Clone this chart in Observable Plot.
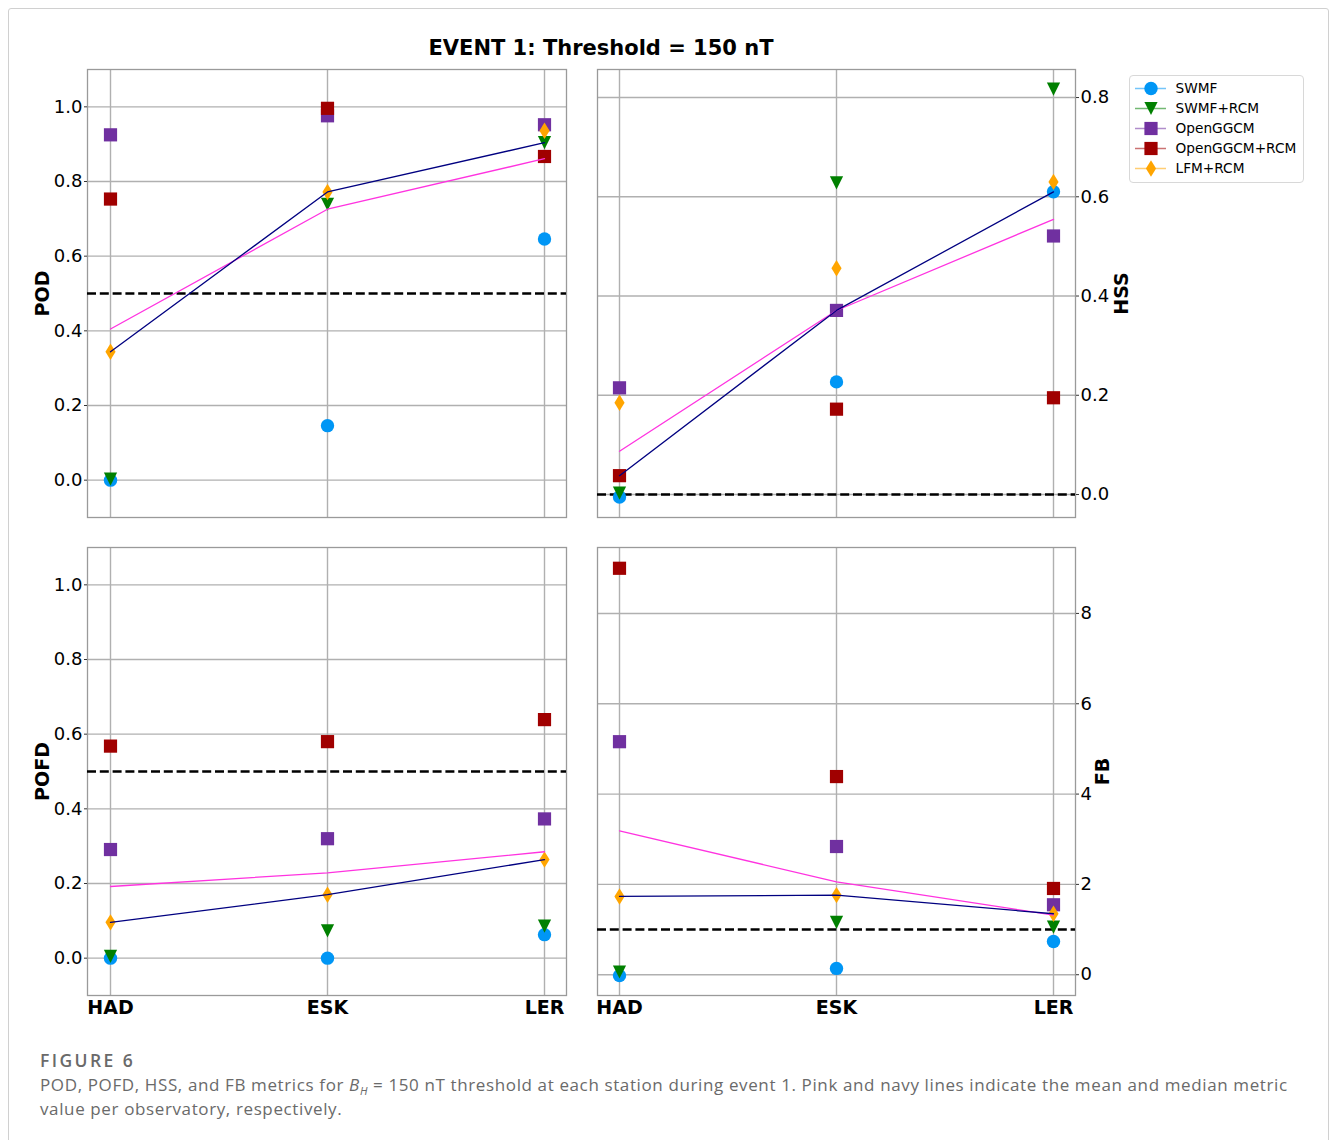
<!DOCTYPE html>
<html>
<head>
<meta charset="utf-8">
<script src="https://cdn.jsdelivr.net/npm/d3@7"></script>
<script src="https://cdn.jsdelivr.net/npm/@observablehq/plot@0.6"></script>
<style>
  body { margin: 0; background: #fff; }
  #fig { position: relative; width: 1331px; height: 1140px; overflow: hidden; font-family: "DejaVu Sans", sans-serif; background: #fff; }
  #border { position: absolute; left: 8px; top: 8px; width: 1321px; height: 1200px; border: 1px solid #d0d0d0; border-radius: 3px; box-sizing: border-box; }
  .panel { position: absolute; }
  #title { position: absolute; left: 0; width: 1202px; top: 36px; line-height: 26px; text-align: center; font: bold 21px "DejaVu Sans", sans-serif; color: #000; }
  #legend { position: absolute; left: 1129px; top: 75px; border: 1px solid #d8d8d8; border-radius: 4px; background: #fff; line-height: 0; }
  #figlabel { position: absolute; left: 40px; top: 1048px; font: 600 17.5px "Open Sans", sans-serif; color: #6a6a6a; letter-spacing: 2.4px; line-height: 24px; }
  #caption { position: absolute; left: 40px; top: 1073px; font: 17px "Open Sans", sans-serif; color: #6a6a6a; line-height: 24px; letter-spacing: 0.62px; white-space: nowrap; }
  #caption sub { font-size: 11px; line-height: 0; vertical-align: baseline; position: relative; top: 4px; }
</style>
</head>
<body>
<div id="fig">
  <div id="border"></div>
  <div id="title">EVENT 1: Threshold = 150 nT</div>
  <div id="legend"></div>
  <div id="figlabel">FIGURE 6</div>
  <div id="caption">POD, POFD, HSS, and FB metrics for <i>B<sub>H</sub></i> = 150 nT threshold at each station during event 1. Pink and navy lines indicate the mean and median metric<br>value per observatory, respectively.</div>
</div>
<script>
// ---------------- data ----------------
const stations = ["HAD", "ESK", "LER"];
const models = ["SWMF", "SWMF+RCM", "OpenGGCM", "OpenGGCM+RCM", "LFM+RCM"];
const modelColors = ["#0096f5", "#008000", "#7030a0", "#a00000", "#ffa500"];
const modelShapes = ["circle", "triangleDown", "square", "square", "thinDiamond"];

// rows: models (in order above); columns: stations HAD, ESK, LER
const POD = [
  [0.000, 0.146, 0.646],
  [0.003, 0.739, 0.904],
  [0.925, 0.976, 0.952],
  [0.753, 0.996, 0.867],
  [0.344, 0.772, 0.936]
];
const HSS = [
  [-0.005, 0.227, 0.610],
  [0.003, 0.628, 0.817],
  [0.215, 0.371, 0.521],
  [0.038, 0.172, 0.195],
  [0.185, 0.456, 0.630]
];
const POFD = [
  [0.000, 0.000, 0.063],
  [0.005, 0.073, 0.086],
  [0.291, 0.320, 0.373],
  [0.568, 0.580, 0.639],
  [0.096, 0.170, 0.264]
];
const FB = [
  [-0.02, 0.14, 0.737],
  [0.06, 1.158, 1.055],
  [5.16, 2.839, 1.549],
  [9.00, 4.388, 1.91],
  [1.733, 1.763, 1.35]
];

const podTicks = [0, 0.2, 0.4, 0.6, 0.8, 1.0];
const hssTicks = [0, 0.2, 0.4, 0.6, 0.8];
const fbTicks = [0, 2, 4, 6, 8];

// ---------------- symbols ----------------
const symbols = {
  circle: "circle",
  square: {
    draw(ctx, size) {
      const h = Math.sqrt(size / Math.PI);
      ctx.moveTo(-h, -h); ctx.lineTo(h, -h); ctx.lineTo(h, h); ctx.lineTo(-h, h); ctx.closePath();
    }
  },
  triangleDown: {
    draw(ctx, size) {
      const h = Math.sqrt(size / Math.PI);
      ctx.moveTo(-h, -h); ctx.lineTo(h, -h); ctx.lineTo(0, h); ctx.closePath();
    }
  },
  thinDiamond: {
    draw(ctx, size) {
      const h = Math.sqrt(size / Math.PI);
      const w = h * 0.62;
      ctx.moveTo(0, -h); ctx.lineTo(w, 0); ctx.lineTo(0, h); ctx.lineTo(-w, 0); ctx.closePath();
    }
  }
};
const symbolR = { circle: 6.7, square: 6.6, triangleDown: 6.6, thinDiamond: 8.2 };

// ---------------- panels ----------------
function panel(cfg) {
  const rows = models.flatMap((m, i) => stations.map((s, j) => ({ model: m, station: s, value: cfg.vals[i][j] })));
  const stats = stations.map((s, j) => ({
    station: s,
    mean: d3.mean(cfg.vals.map(v => v[j])),
    median: d3.median(cfg.vals.map(v => v[j]))
  }));
  const marks = [
    Plot.gridX({ stroke: "#b0b0b0", strokeOpacity: 1, strokeWidth: 1.4 }),
    Plot.gridY(cfg.ticks, { stroke: "#b0b0b0", strokeOpacity: 1, strokeWidth: 1.4 }),
    Plot.frame({ stroke: "#9a9a9a", strokeWidth: 1.3 }),
    Plot.ruleY([cfg.ref], { stroke: "#000", strokeWidth: 2.4, strokeDasharray: "9,3.8" }),
    Plot.axisY(cfg.ticks, {
      anchor: cfg.anchor, tickFormat: cfg.fmt, tickSize: 3, tickPadding: 2,
      fontSize: 18, label: null, stroke: "#333"
    }),
    Plot.text([cfg.label], {
      text: d => d, frameAnchor: cfg.anchor, dx: cfg.labelDx, rotate: -90,
      textAnchor: "middle", lineAnchor: "middle", fontWeight: "bold", fontSize: 19, fill: "#000"
    })
  ];
  if (cfg.showX) {
    marks.push(Plot.axisX({ anchor: "bottom", tickSize: 0, tickPadding: 5, fontSize: 19, fontWeight: "bold", label: null }));
  }
  models.forEach((m, i) => {
    const shape = modelShapes[i];
    marks.push(Plot.dot(rows.filter(d => d.model === m), {
      x: "station", y: "value", symbol: symbols[shape], r: symbolR[shape],
      fill: modelColors[i], stroke: "none"
    }));
  });
  marks.push(Plot.line(stats, { x: "station", y: "mean", stroke: "#ff33e0", strokeWidth: 1.3 }));
  marks.push(Plot.line(stats, { x: "station", y: "median", stroke: "#000080", strokeWidth: 1.3 }));

  const chart = Plot.plot({
    width: cfg.width, height: cfg.height,
    marginLeft: cfg.mL, marginRight: cfg.mR, marginTop: cfg.mT, marginBottom: cfg.mB,
    style: { fontFamily: "DejaVu Sans, sans-serif", fontSize: "18px", background: "transparent", overflow: "visible", color: "#000" },
    x: { type: "point", domain: stations, padding: 0.1, axis: null },
    y: { domain: cfg.domain, axis: null },
    marks
  });
  chart.classList.add("panel");
  chart.style.left = cfg.left + "px";
  chart.style.top = cfg.top + "px";
  document.getElementById("fig").appendChild(chart);
}

panel({ vals: POD, domain: [-0.1, 1.1], ticks: podTicks, fmt: ".1f", anchor: "left", label: "POD", labelDx: -45, ref: 0.5,
  showX: false, left: 0, top: 40, width: 590, height: 500, mL: 87, mR: 24, mT: 29, mB: 23 });
panel({ vals: HSS, domain: [-0.0463, 0.8565], ticks: hssTicks, fmt: ".1f", anchor: "right", label: "HSS", labelDx: 46, ref: 0,
  showX: false, left: 590, top: 40, width: 540, height: 500, mL: 7, mR: 55, mT: 29, mB: 23 });
panel({ vals: POFD, domain: [-0.1, 1.1], ticks: podTicks, fmt: ".1f", anchor: "left", label: "POFD", labelDx: -45, ref: 0.5,
  showX: true, left: 0, top: 520, width: 590, height: 515, mL: 87, mR: 24, mT: 27, mB: 40 });
panel({ vals: FB, domain: [-0.46, 9.46], ticks: fbTicks, fmt: "d", anchor: "right", label: "FB", labelDx: 27, ref: 1,
  showX: true, left: 590, top: 520, width: 540, height: 515, mL: 7, mR: 55, mT: 27, mB: 40 });

// ---------------- legend ----------------
const legendRows = models.map((m, i) => ({ model: m, color: modelColors[i], shape: modelShapes[i] }));
const legendMarks = [
  Plot.ruleY(legendRows, { y: "model", x1: 5, x2: 36, stroke: "color", strokeOpacity: 0.55, strokeWidth: 1.5 }),
  Plot.text(legendRows, { y: "model", x: 45, text: "model", textAnchor: "start", fontSize: 13.7, fill: "#000" })
];
legendRows.forEach(d => {
  legendMarks.push(Plot.dot([d], { y: "model", x: 20.5, symbol: symbols[d.shape], r: symbolR[d.shape], fill: d.color, stroke: "none" }));
});
const legend = Plot.plot({
  width: 173, height: 106, margin: 0,
  style: { fontFamily: "DejaVu Sans, sans-serif", background: "transparent", overflow: "visible" },
  x: { domain: [0, 173], range: [0, 173], axis: null },
  y: { type: "point", domain: models, range: [11, 92], padding: 0, axis: null },
  color: { type: "identity" },
  marks: legendMarks
});
document.getElementById("legend").appendChild(legend);
</script>
</body>
</html>
